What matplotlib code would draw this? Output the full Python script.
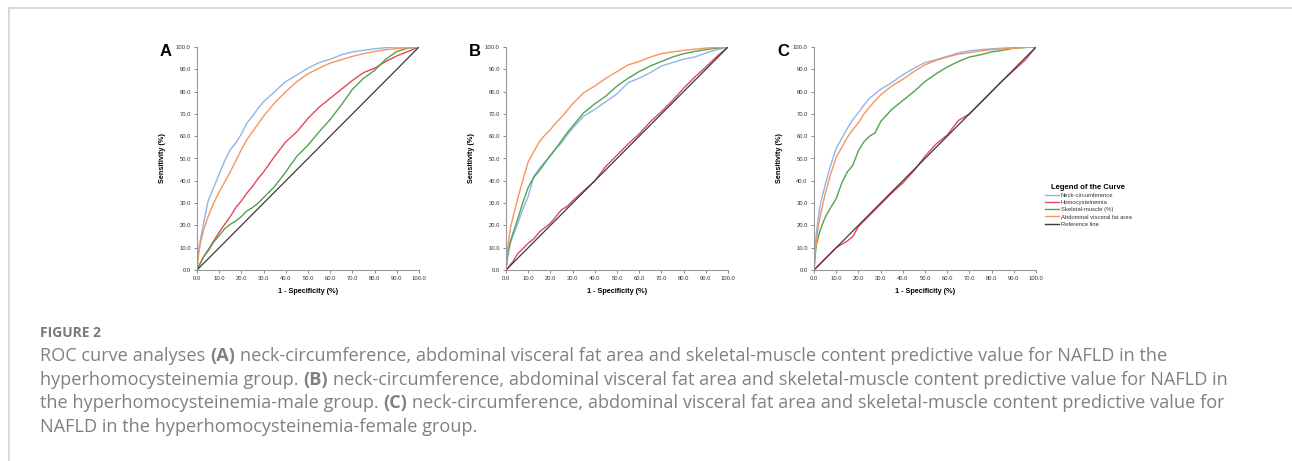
import matplotlib
matplotlib.use("Agg")
import matplotlib.pyplot as plt
from matplotlib.lines import Line2D

W, H = 1292, 461

# ---------------- data (FPR / TPR in %) ----------------
fpr = [0, 0.5, 1, 2, 3, 5, 7.5, 10, 12.5, 15, 17.5, 20, 22.5, 25, 27.5, 30,
       35, 40, 45, 50, 55, 60, 65, 70, 75, 80, 85, 90, 95, 100]

# panel A : hyperhomocysteinemia group
a_neck = [0, 7, 11, 16, 21, 31, 37, 43, 49, 54, 57, 61, 66, 69, 72.5, 75.5,
          80, 84.5, 87.5, 90.5, 93, 94.5, 96.5, 97.8, 98.5, 99.2, 99.7, 100, 100, 100]
a_hcy = [0, 1, 2, 4, 6, 9, 13, 17, 20.5, 24, 28, 31, 34.5, 37.5, 41, 44,
         51, 57.5, 62, 68, 73, 77, 81, 85, 88.5, 90.5, 93.5, 96, 98, 100]
a_sm = [0, 1, 2, 4, 6, 8.5, 12.5, 15.5, 18.5, 20.5, 22, 24, 26.5, 28, 30, 32.5,
        37.5, 44, 51, 56, 62, 67.5, 74, 81, 86, 89.5, 94.5, 98, 99.5, 100]
a_fat = [0, 5, 9, 14, 18, 24, 30, 35, 39.5, 44, 49, 54, 58.5, 62, 65.5, 69,
         75, 80, 84.5, 88, 90.5, 92.8, 94.3, 95.8, 97, 98, 98.8, 99.3, 99.7, 100]

# panel B : hyperhomocysteinemia-male group
b_neck = [0, 4, 7, 12, 15, 20, 27, 33, 42, 45.5, 48.5, 51, 54.5, 57, 60.5, 63.5,
          69, 72, 75.5, 79, 84, 86, 88.5, 91.5, 93, 94.5, 95.5, 97.3, 98.8, 100]
b_hcy = [0, 0.5, 1, 2.5, 3.5, 7, 9.5, 12, 14, 17, 19, 21, 24, 27, 28.5, 31,
         35.5, 40, 46.5, 51.5, 56.5, 61, 66.5, 71, 76, 81.5, 86.5, 91, 95.8, 100]
b_sm = [0, 5, 9, 13, 16, 22, 30, 37, 41.5, 44.5, 48, 51.5, 54.5, 58, 61.5, 64.5,
        70.5, 74.5, 78, 82.5, 86, 89, 91.5, 93.5, 95.5, 97, 98, 98.8, 99.5, 100]
b_fat = [0, 7, 12, 19, 23, 31, 40, 48.5, 53, 57.5, 60.5, 63, 66, 68.5, 71.5, 74.5,
         79.5, 82.5, 86, 89, 92, 93.5, 95.5, 97, 97.8, 98.5, 99, 99.5, 99.8, 100]

# panel C : hyperhomocysteinemia-female group
c_neck = [0, 10, 16, 24, 30, 38, 47, 54.5, 59, 63.5, 67.5, 70.5, 74, 77, 79, 81,
          84, 87.5, 90.5, 93, 94.3, 95.8, 97.3, 98.3, 98.8, 99.2, 99.5, 99.7, 99.8, 100]
c_hcy = [0, 0.5, 1, 2, 3, 5, 7.5, 10, 11.5, 13, 15, 19.5, 22, 24.5, 27, 29.5,
         34.5, 39, 44.5, 51, 56.5, 60.5, 67, 70, 75, 80, 85, 89.5, 94, 100]
c_sm = [0, 6, 11, 15, 18.5, 23.5, 28, 32, 39, 44, 47, 53.5, 57.5, 60, 61.5, 66.5,
        72, 76, 80, 84.5, 88, 91, 93.5, 95.5, 96.5, 97.8, 98.5, 99.5, 99.8, 100]
c_fat = [0, 8, 12, 20, 25, 34, 43, 50.5, 55, 59.5, 63, 66, 70, 73, 76, 78.5,
         82.5, 85.5, 89, 92, 94, 95.5, 96.8, 97.5, 98.2, 98.8, 99.2, 99.5, 99.8, 100]

ref = [0, 100]

labels = ["Neck-circumference", "Homocysteinemia", "Skeletal-muscle (%)",
          "Abdominal visceral fat area", "Reference line"]
colors = ["#8fb6e6", "#e8455f", "#4fa44f", "#f89462", "#3a3a3a"]

panels = [("A", [a_neck, a_hcy, a_sm, a_fat]),
          ("B", [b_neck, b_hcy, b_sm, b_fat]),
          ("C", [c_neck, c_hcy, c_sm, c_fat])]
ticks = [0, 10, 20, 30, 40, 50, 60, 70, 80, 90, 100]
tick_labels = ["%.1f" % t for t in ticks]

caption_lines = [
    [("ROC curve analyses", False), ("(A)", True),
     ("neck-circumference, abdominal visceral fat area and skeletal-muscle content predictive value for NAFLD in the", False)],
    [("hyperhomocysteinemia group.", False), ("(B)", True),
     ("neck-circumference, abdominal visceral fat area and skeletal-muscle content predictive value for NAFLD in", False)],
    [("the hyperhomocysteinemia-male group.", False), ("(C)", True),
     ("neck-circumference, abdominal visceral fat area and skeletal-muscle content predictive value for", False)],
    [("NAFLD in the hyperhomocysteinemia-female group.", False)],
]

plt.rcParams['font.family'] = ['Liberation Sans', 'DejaVu Sans']

fig = plt.figure(figsize=(W / 100, H / 100), dpi=100)

# axes boxes in pixels: left, top, right, bottom
boxes = [(197, 47, 419, 270), (506, 47, 728, 270), (814, 47, 1036, 270)]

for (letter, curves), (l, t, r, b) in zip(panels, boxes):
    ax = fig.add_axes([l / W, 1 - b / H, (r - l) / W, (b - t) / H])
    for y, c in zip(curves, colors[:4]):
        ax.plot(fpr, y, color=c, lw=1.0)
    ax.plot(ref, ref, color=colors[4], lw=0.9)
    ax.set_xlim(0, 100)
    ax.set_ylim(0, 100)
    ax.set_xticks(ticks)
    ax.set_xticklabels(tick_labels)
    ax.set_yticks(ticks)
    ax.set_yticklabels(tick_labels)
    ax.tick_params(labelsize=4.2, colors="#888888", labelcolor="#333333",
                   length=2.5, width=0.7, pad=2)
    for s in ["top", "right"]:
        ax.spines[s].set_visible(False)
    for s in ["left", "bottom"]:
        ax.spines[s].set_color("#999999")
        ax.spines[s].set_linewidth(0.8)
    ax.set_xlabel("1 - Specificity (%)", fontsize=5.2, fontweight="bold", labelpad=5)
    ax.set_ylabel("Sensitivity (%)", fontsize=5.2, fontweight="bold", labelpad=7)
    fig.text((l - 31) / W, 1 - 51 / H, letter, fontsize=12, fontweight="bold",
             ha="center", va="center")

handles = [Line2D([], [], color=c, lw=1.0) for c in colors]
leg = fig.legend(handles, labels, loc="upper left",
                 bbox_to_anchor=(1045 / W, 1 - 184 / H), frameon=False,
                 fontsize=4.2, title="Legend of the Curve",
                 title_fontproperties={"size": 5.5, "weight": "bold"},
                 handlelength=2.4, handletextpad=0.3, labelspacing=0.35,
                 borderpad=0, borderaxespad=0)
for txt in leg.get_texts():
    txt.set_color("#333333")

# frame lines of the page
fig.add_artist(Line2D([9 / W, 1], [1 - 8 / H, 1 - 8 / H], color="#d3d3d3", lw=1.2))
fig.add_artist(Line2D([9 / W, 9 / W], [1 - 8 / H, 0], color="#d3d3d3", lw=1.2))

# caption
cap_font = ['Open Sans', 'DejaVu Sans']
cap_size = 13.1
fig.text(40 / W, 1 - 337 / H, "FIGURE 2", fontsize=10, fontweight="bold",
         color="#7a7a7a", family=cap_font, va="baseline")

renderer = fig.canvas.get_renderer()


def width_of(s, bold):
    t = fig.text(0, 0, s, fontsize=cap_size, family=cap_font,
                 fontweight="bold" if bold else "normal")
    w = t.get_window_extent(renderer=renderer).width
    t.remove()
    return w


space = width_of("a a", False) - width_of("aa", False)
base = 361
for i, parts in enumerate(caption_lines):
    x = 40
    y = base + i * 23.7
    for txt, bold in parts:
        t = fig.text(x / W, 1 - y / H, txt, fontsize=cap_size, family=cap_font,
                     fontweight="bold" if bold else "normal", color="#808080",
                     va="baseline")
        x += t.get_window_extent(renderer=renderer).width + space

fig.savefig("out.png", dpi=100)
